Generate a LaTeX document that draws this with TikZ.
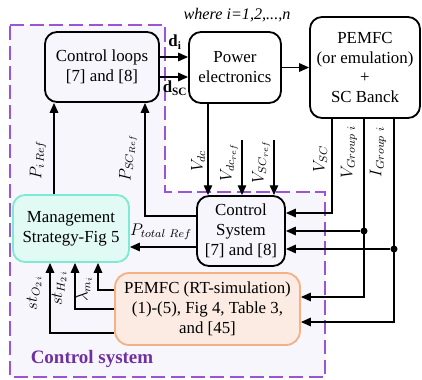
\documentclass[tikz,border=0pt]{standalone}
\usepackage{fontspec}
\setmainfont{Liberation Serif}
\usepackage{amsmath}
\usepackage{tikz}
\usetikzlibrary{positioning}
\usetikzlibrary{calc}
\usetikzlibrary{arrows.meta}

\definecolor{csviolet}{RGB}{153,85,214}
\definecolor{csback}{RGB}{248,246,253}
\definecolor{mgfill}{RGB}{226,250,244}
\definecolor{mgline}{RGB}{126,234,211}
\definecolor{rtfill}{RGB}{251,235,226}
\definecolor{rtline}{RGB}{244,177,131}
\definecolor{cstext}{RGB}{112,48,160}

\begin{document}
\begin{tikzpicture}[
    x=0.25mm, y=-0.25mm,
    font=\fontsize{12}{14.2}\selectfont,
    blk/.style={draw, line width=1.3pt, rounded corners=3mm, align=center, inner sep=2pt},
    arr/.style={-{Triangle[length=7pt,width=6pt]}, line width=1pt},
    lbl/.style={rotate=90, inner sep=1pt},
    jn/.style={circle, fill, inner sep=0pt, minimum size=5pt}]
    \useasboundingbox (0,0) rectangle (422,379);

    % zona del sistema di controllo
    \draw[csviolet, fill=csback, line width=1.4pt, dash pattern=on 10pt off 4pt]
      (10,25) -- (165,25) -- (165,192) -- (325,192) -- (325,377) -- (10,377) -- cycle;
    \node[text=cstext, font=\fontsize{13.5}{15}\selectfont\bfseries] (cslabel) at (92,359) {Control system};

    % blocchi principali
    \node[blk, minimum width=28.5mm, minimum height=17.5mm] (loops) at (102,67) {Control loops\\{[7]} and [8]};
    \node[blk, minimum width=23mm, minimum height=17.75mm] (power) at (235,67.5) {Power\\electronics};
    \node[blk, minimum width=27.5mm, minimum height=25.25mm] (fcbank) at (365,67.5) {PEMFC\\(or emulation)\\+\\SC Banck};
    \node[blk, minimum width=22mm, minimum height=17.5mm] (ctrlsys) at (241,231) {Control\\System\\{[7]} and [8]};
    \node[blk, fill=mgfill, draw=mgline, minimum width=29mm, minimum height=16.75mm] (strategy) at (71,228.5) {Management\\Strategy-Fig 5};
    \node[blk, fill=rtfill, draw=rtline, rounded corners=3.5mm, minimum width=46.25mm, minimum height=18mm] (rtsim) at (207.5,309) {PEMFC (RT-simulation)\\(1)-(5), Fig 4, Table 3,\\and [45]};
    \node[font=\fontsize{11.5}{13}\selectfont\itshape] (where) at (237,15) {where i=1,2,...,n};

    % coordinate di appoggio
    \coordinate (yd1) at (0,57);
    \coordinate (yd2) at (0,77);
    \coordinate (xdc) at (208,0);
    \coordinate (xdcr) at (242,140);
    \coordinate (xscr) at (274,140);
    \coordinate (xvsc) at (332,0);
    \coordinate (xvg) at (364,0);
    \coordinate (xig) at (394,0);
    \coordinate (yvsc) at (0,213);
    \coordinate (yvg1) at (0,231);
    \coordinate (yig1) at (0,249);
    \coordinate (yvg2) at (0,297);
    \coordinate (yig2) at (0,322);
    \coordinate (xpi) at (54,0);
    \coordinate (xpsc) at (145,0);
    \coordinate (ypsc) at (0,216);
    \coordinate (ypt) at (0,247);
    \coordinate (ylam) at (0,290);
    \coordinate (xlam) at (98,0);
    \coordinate (yh2) at (0,309);
    \coordinate (xh2) at (75,0);
    \coordinate (yo2) at (0,333);
    \coordinate (xo2) at (50,0);

    % frecce in alto
    \draw[arr] (loops.east |- yd1) -- (power.west |- yd1);
    \draw[arr] (loops.east |- yd2) -- (power.west |- yd2);
    \draw[arr] (power) -- (fcbank);
    \node (ldi) at (175,42) {\textbf{d}$_{\mathbf{i}}$};
    \node (ldsc) at (175,88) {\textbf{d}$_{\mathbf{SC}}$};

    % riferimenti verso il Control System
    \draw[arr] (power.south -| xdc) -- (ctrlsys.north -| xdc);
    \draw[arr] (xdcr) -- (ctrlsys.north -| xdcr);
    \draw[arr] (xscr) -- (ctrlsys.north -| xscr);
    \node[lbl] (lvdc) at (198,161) {$V_{dc}$};
    \node[lbl] (lvdcr) at (229,162) {$V_{dc_{ref}}$};
    \node[lbl] (lvscr) at (261,162) {$V_{SC_{ref}}$};

    % misure dal banco
    \node[jn] (jvg) at (xvg |- yvg1) {};
    \node[jn] (jig) at (xig |- yig1) {};
    \draw[arr] (fcbank.south -| xvsc) |- (ctrlsys.east |- yvsc);
    \draw[arr] (fcbank.south -| xvg) |- (rtsim.east |- yvg2);
    \draw[arr] (fcbank.south -| xig) |- (rtsim.east |- yig2);
    \draw[arr] (jvg) -- (ctrlsys.east |- jvg);
    \draw[arr] (jig) -- (ctrlsys.east |- jig);
    \node[lbl] (lvsc) at (320,159) {$V_{SC}$};
    \node[lbl] (lvg) at (349,152) {$V_{Group\ i}$};
    \node[lbl] (lig) at (378,152) {$I_{Group\ i}$};

    % riferimenti di potenza
    \draw[arr] (strategy.north -| xpi) -- (loops.south -| xpi);
    \draw[arr] (ctrlsys.west |- ypsc) -| (loops.south -| xpsc);
    \draw[arr] (ctrlsys.west |- ypt) -- (strategy.east |- ypt);
    \node[lbl] (lpi) at (38,160) {$P_{i\,Ref}$};
    \node[lbl] (lpsc) at (128,158) {$P_{SC_{Ref}}$};
    \node (lpt) at (161,232) {$P_{total\ Ref}$};

    % stati dalla simulazione RT
    \draw[arr] (rtsim.west |- ylam) -| (strategy.south -| xlam);
    \draw[arr] (rtsim.west |- yh2) -| (strategy.south -| xh2);
    \draw[arr] (rtsim.west |- yo2) -| (strategy.south -| xo2);
    \node[lbl] (llam) at (84,289) {$\lambda_{m_i}$};
    \node[lbl] (lh2) at (59,288) {$st_{H_{2\,i}}$};
    \node[lbl] (lo2) at (34,293) {$st_{O_{2\,i}}$};
\end{tikzpicture}
\end{document}
